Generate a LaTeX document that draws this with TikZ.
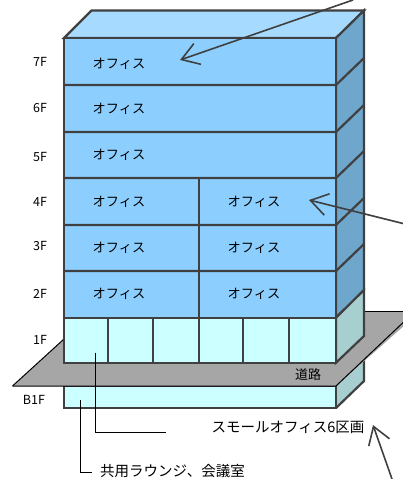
\documentclass[tikz,border=0pt]{standalone}
\usepackage{fontspec}
\setmainfont{Noto Sans CJK JP}
\usetikzlibrary{arrows.meta}
\definecolor{edge}{HTML}{404040}
\definecolor{front}{HTML}{8CCFFF}
\definecolor{topface}{HTML}{A6DAFF}
\definecolor{sideface}{HTML}{6FA6CC}
\definecolor{lowfront}{HTML}{CCFFFF}
\definecolor{lowside}{HTML}{A8CFCF}
\definecolor{road}{HTML}{A6A6A6}
\tikzset{
  wall/.style={draw=edge,line width=2.2pt,line join=miter},
  office/.style={font=\fontsize{13.2}{13.2}\selectfont,text=black,inner sep=0pt},
  floorlabel/.style={font=\fontsize{12.5}{12.5}\selectfont,text=black,inner sep=0pt},
  note/.style={font=\fontsize{14.5}{14.5}\selectfont,text=black,inner sep=0pt},
  pointer/.style={draw=edge,line width=1.6pt,-{Straight Barb[length=17pt,width=22pt,line width=1.6pt]}},
  leader/.style={draw=black,line width=1pt}
}
\begin{document}
\begin{tikzpicture}[x=1pt,y=-1pt]
\useasboundingbox (0,0) rectangle (403,479);
\begin{scope}
\clip (0,0) rectangle (403,479);
% basement
\fill[lowside] (336,386) -- (364,360) -- (364,381) -- (336,408) -- cycle;
\draw[wall] (364,355) -- (364,381) -- (336,408);
\draw[wall,fill=lowfront] (64,386) rectangle (336,408);
% road
\fill[road] (64,339) -- (100,311.7) -- (420,311.7) -- (336,386) -- (12.5,386) -- cycle;
\draw[black,line width=1pt] (12.5,386) -- (336,386) -- (410,316);
\draw[black,line width=1pt] (12.5,386) -- (64,339);
\draw[black,line width=1pt] (364,311.7) -- (403,311.7);
% tower faces
\draw[wall,fill=topface] (64,38) -- (91.5,10.5) -- (364,10.5) -- (336,38) -- cycle;
\draw[wall,fill=sideface] (336,38) -- (364,10.5) -- (364,290) -- (336,317.7) -- cycle;
\draw[wall,fill=lowside] (336,317.7) -- (364,290) -- (364,336) -- (336,362.7) -- cycle;
\draw[wall,fill=front] (64,38) rectangle (336,317.7);
\draw[wall,fill=lowfront] (64,317.7) rectangle (336,362.7);
% floor lines
\foreach \y in {85,132,178,225,271}{
  \draw[wall] (64,\y) -- (336,\y) -- ++(28,-27);
}
\draw[wall] (199,178) -- (199,317.7);
\foreach \x in {108,153,199,243,289}{
  \draw[wall] (\x,317.7) -- (\x,362.7);
}
\end{scope}
% labels
\foreach \n/\t/\x/\y in {a/7F/40/62,b/6F/40/108,c/5F/40/157,d/4F/40/202,e/3F/40/246,f/2F/40/294,g/1F/40/340,h/B1F/34/400}{
  \node[floorlabel] (lab\n) at (\x,\y) {\t};
}
\foreach \n/\x/\y in {a/119/63.5,b/119/109,c/119/154.5,d/119/201.5,e/119/247.5,f/119/293.5,g/254/201.5,h/254/247.5,i/254/293.5}{
  \node[office] (off\n) at (\x,\y) {オフィス};
}
\node[font=\fontsize{13}{13}\selectfont,inner sep=0pt] (roadlabel) at (308,375) {道路};
\node[note,anchor=east] (small) at (364.5,427) {スモールオフィス6区画};
\node[note,anchor=west] (lounge) at (100,471) {共用ラウンジ、会議室};
% free ends
\coordinate (p1s) at (353,0);
\coordinate (p1e) at (180,60);
\coordinate (p2s) at (403,223.5);
\coordinate (p2e) at (309,200);
\coordinate (p3s) at (392,479);
\coordinate (p3e) at (373,425);
\draw[pointer] (p1s) -- (p1e);
\draw[pointer] (p2s) -- (p2e);
\draw[pointer] (p3s) -- (p3e);
\coordinate (l1a) at (95,352.5);
\coordinate (l1b) at (95,432);
\coordinate (l1c) at (166,432);
\coordinate (l2a) at (80,400);
\coordinate (l2b) at (80,472);
\coordinate (l2c) at (92,472);
\draw[leader] (l1a) -- (l1b) -- (l1c);
\draw[leader] (l2a) -- (l2b) -- (l2c);
\end{tikzpicture}
\end{document}
